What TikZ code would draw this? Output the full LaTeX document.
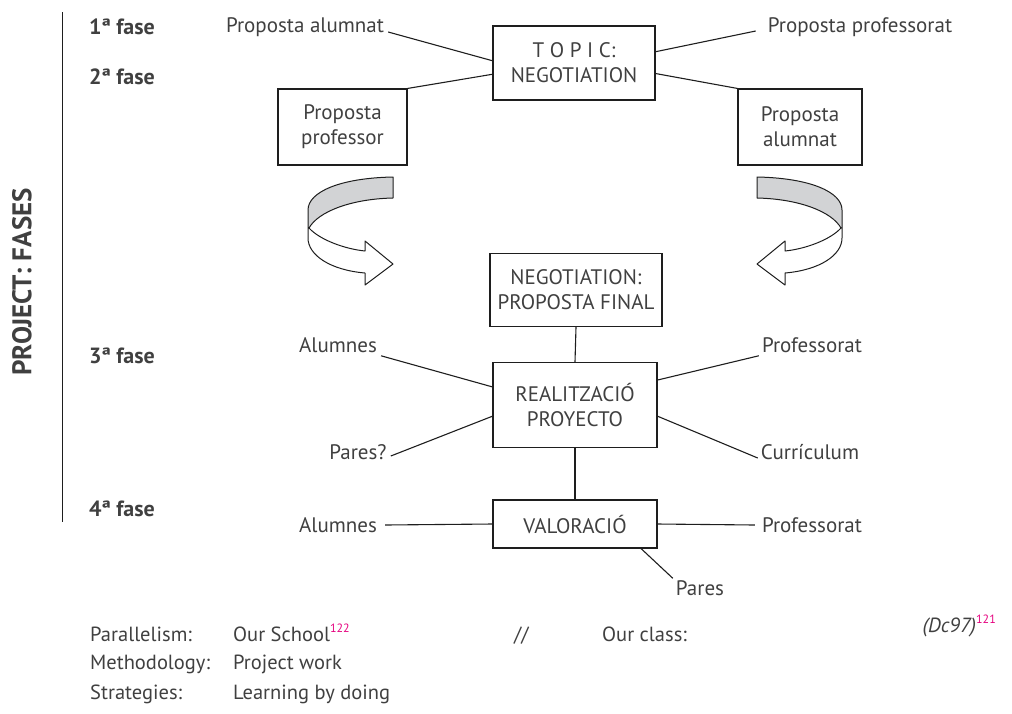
\documentclass[tikz,border=0pt]{standalone}
\usepackage{fontspec}
\setmainfont{PT Sans}
\usetikzlibrary{calc}
\definecolor{ink}{HTML}{404040}
\definecolor{edge}{HTML}{1E1E1E}
\definecolor{band}{HTML}{D2D3D5}
\definecolor{note}{HTML}{E5007E}
\newcommand{\refmark}[1]{\raisebox{0.8ex}{\upshape\fontsize{12}{12}\selectfont\color{note}#1}}
\tikzset{
  every node/.style={text=ink, font=\fontsize{21}{25}\selectfont},
  box/.style={draw=edge, line width=1.1pt, align=center, inner sep=0pt},
  lbl/.style={inner sep=0pt},
  phase/.style={inner sep=0pt, font=\fontsize{22}{26}\selectfont\bfseries},
  notes/.style={inner sep=0pt, font=\fontsize{20.5}{24}\selectfont},
  link/.style={draw=edge, line width=1.1pt},
  turn/.style={draw=edge, line width=1pt, line join=round},
}
\begin{document}
\begin{tikzpicture}[x=1pt, y=-1pt]
\useasboundingbox (0,0) rectangle (1012,713);

% phase rail
\coordinate (railtop) at (62,12);
\coordinate (railbot) at (62,522);
\draw[edge, line width=1pt] (railtop) -- (railbot);
\node[phase, rotate=90, font=\fontsize{27}{30}\selectfont\bfseries] (title) at (22,282) {PROJECT: FASES};
\node[phase] (f1) at (122,27) {1ª fase};
\node[phase] (f2) at (122,77) {2ª fase};
\node[phase] (f3) at (122,356) {3ª fase};
\node[phase] (f4) at (122,509) {4ª fase};

% phase 1 and 2
\node[box, minimum width=162pt, minimum height=74pt] (topic) at (574,63) {T O P I C:\\NEGOTIATION};
\node[lbl] (pa) at (305,27) {Proposta alumnat};
\node[lbl] (pp) at (860,27) {Proposta professorat};
\node[box, minimum width=129pt, minimum height=76pt] (bprof) at (342.5,127) {Proposta\\professor};
\node[box, minimum width=124pt, minimum height=76pt] (balum) at (800,127) {Proposta\\alumnat};

\draw[link] ([xshift=4pt,yshift=-5pt]pa.east) -- ($(topic.north west)!0.47!(topic.south west)$);
\draw[link] ($(topic.north east)!0.35!(topic.south east)$) -- ([xshift=-12pt,yshift=-4pt]pp.west);
\draw[link] (bprof.north east) -- ($(topic.north west)!0.65!(topic.south west)$);
\draw[link] ($(topic.north east)!0.64!(topic.south east)$) -- (balum.north west);

% twisted arrow on the left
\begin{scope}
  \fill[band] (393,177) .. controls (340,178) and (308,192) .. (308,210) -- (308,228)
    .. controls (318,212) and (350,199) .. (393,198) -- cycle;
  \draw[turn] (393,198) -- (393,177) .. controls (340,178) and (308,192) .. (308,210) -- (308,238)
    .. controls (308,255) and (330,270) .. (365,273) -- (365,285) -- (393,264) -- (365,241) -- (365,251)
    .. controls (345,249) and (320,240) .. (309,228)
    .. controls (318,212) and (350,199) .. (393,198);
\end{scope}
% twisted arrow on the right
\begin{scope}[xshift=1150pt, xscale=-1]
  \fill[band] (393,177) .. controls (340,178) and (308,192) .. (308,210) -- (308,228)
    .. controls (318,212) and (350,199) .. (393,198) -- cycle;
  \draw[turn] (393,198) -- (393,177) .. controls (340,178) and (308,192) .. (308,210) -- (308,238)
    .. controls (308,255) and (330,270) .. (365,273) -- (365,285) -- (393,264) -- (365,241) -- (365,251)
    .. controls (345,249) and (320,240) .. (309,228)
    .. controls (318,212) and (350,199) .. (393,198);
\end{scope}

% phase 3
\node[box, minimum width=172pt, minimum height=73pt] (final) at (576,290) {NEGOTIATION:\\PROPOSTA FINAL};
\node[box, minimum width=164pt, minimum height=85pt] (real) at (575,405) {REALITZACIÓ\\PROYECTO};
\node[lbl] (al3) at (338,345) {Alumnes};
\node[lbl] (pr3) at (812,345) {Professorat};
\node[lbl] (pq) at (358,452) {Pares?};
\node[lbl] (cu) at (810,452) {Currículum};
\draw[link] (final.south) -- (real.north);
\draw[link] ([xshift=4pt,yshift=-3pt]al3.south east) -- ($(real.north west)!0.29!(real.south west)$);
\draw[link] ($(real.north east)!0.21!(real.south east)$) -- ([xshift=-3pt,yshift=-3pt]pr3.south west);
\draw[link] ([xshift=4pt,yshift=-4pt]pq.east) -- ($(real.north west)!0.63!(real.south west)$);
\draw[link] ($(real.north east)!0.63!(real.south east)$) -- ([xshift=-3pt,yshift=-6pt]cu.west);

% phase 4
\node[box, minimum width=164pt, minimum height=48pt] (val) at (575,524) {VALORACIÓ};
\node[lbl] (al4) at (338,525) {Alumnes};
\node[lbl] (pr4) at (812,525) {Professorat};
\node[lbl] (pa4) at (700,588) {Pares};
\draw[link] (real.south) -- (val.north);
\draw[link] ([xshift=8pt]al4.east) -- (val.west);
\draw[link] (val.east) -- ([xshift=-7pt]pr4.west);
\draw[link] ($(val.south west)!0.9!(val.south east)$) -- ([xshift=-3pt,yshift=2pt]pa4.north west);

% notes below
\node[notes, anchor=base west] (k1) at (90,641) {Parallelism:};
\node[notes, anchor=base west] (v1) at (233,641) {Our School\refmark{122}};
\node[notes, anchor=base west] (sep) at (514,641) {//};
\node[notes, anchor=base west] (v1b) at (602,641) {Our class:};
\node[notes, anchor=base east] (src) at (996,632) {\itshape (Dc97)\refmark{121}};
\node[notes, anchor=base west] (k2) at (90,669) {Methodology:};
\node[notes, anchor=base west] (v2) at (233,669) {Project work};
\node[notes, anchor=base west] (k3) at (90,699) {Strategies:};
\node[notes, anchor=base west] (v3) at (233,699) {Learning by doing};
\end{tikzpicture}
\end{document}
